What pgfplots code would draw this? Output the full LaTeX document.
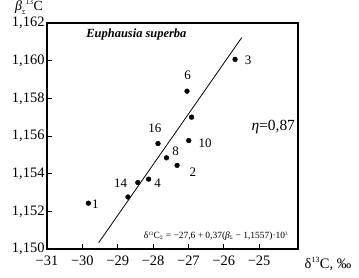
\documentclass[border=0pt]{standalone}
\usepackage{fontspec}
\setmainfont{Liberation Serif}
\usepackage{pgfplots}
\pgfplotsset{compat=1.18}
\begin{document}
\begin{tikzpicture}[x=1bp,y=1bp]
\begin{axis}[
  scale only axis,
  width=251bp, height=226bp,
  xmin=-31, xmax=-23.9, ymin=1.150, ymax=1.162,
  axis line style={line width=1.1pt},
  tick style={black, line width=0.8pt},
  tick align=inside,
  major tick length=5bp,
  xtick={-31,-30,-29,-28,-27,-26,-25},
  xticklabels={−31,−30,−29,−28,−27,−26,−25},
  ytick={1.150,1.152,1.154,1.156,1.158,1.160,1.162},
  yticklabels={{1,150},{1,152},{1,154},{1,156},{1,158},{1,160},{1,162}},
  xtick pos=bottom, ytick pos=left,
  tick label style={font=\fontsize{14.5}{14.5}\selectfont},
  yticklabel style={xshift=1bp},
  xticklabel style={yshift=-3bp},
  scaled y ticks=false,
  clip=false,
]
\addplot[black, line width=0.8pt] coordinates {(-29.54,1.15033) (-25.49,1.16123)};
\addplot[only marks, mark=*, mark size=2.4bp, black] coordinates {
 (-29.83,1.15243) (-28.71,1.15276) (-28.43,1.15353) (-28.125,1.15371)
 (-27.86,1.15560) (-27.62,1.15484) (-27.32,1.15444) (-26.99,1.15576)
 (-27.04,1.15838) (-26.91,1.15700) (-25.68,1.16007)};
\begin{scope}[every node/.style={font=\fontsize{13}{13}\selectfont}]
\node at (axis cs:-29.63,1.1524) {1};
\node at (axis cs:-28.92,1.1535) {14};
\node at (axis cs:-27.87,1.1535) {4};
\node at (axis cs:-27.95,1.1564) {16};
\node at (axis cs:-27.36,1.1552) {8};
\node at (axis cs:-26.875,1.1541) {2};
\node at (axis cs:-26.53,1.1556) {10};
\node at (axis cs:-27.02,1.1592) {6};
\node at (axis cs:-25.31,1.1600) {3};
\end{scope}
\node[font=\fontsize{15.5}{15.5}\selectfont] at (axis cs:-24.60,1.15648) {\textit{η}=0,87};
\node[font=\fontsize{12.5}{12.5}\selectfont\itshape\bfseries] at (axis cs:-28.47,1.16139) {Euphausia superba};
\node[font=\fontsize{9.5}{9.5}\selectfont] at (axis cs:-26.22,1.15067) {δ$^{\mbox{\tiny 13}}$C$_{\mbox{\tiny Σ}}$ = −27,6 + 0,37(\textit{β}$_{\mbox{\tiny Σ}}$ − 1,1557)·10$^{\mbox{\tiny 3}}$};
\coordinate (bbsw) at (rel axis cs:0,0);
\coordinate (bbne) at (rel axis cs:1,1);
\end{axis}
\node[font=\fontsize{14.5}{14.5}\selectfont, anchor=center] at ([xshift=30bp,yshift=-15bp]bbsw -| bbne) {δ$^{\mbox{\footnotesize 13}}$C, ‰};
\node[font=\fontsize{14}{14}\selectfont, anchor=base, inner sep=0pt] at ([xshift=-18bp,yshift=12bp]bbsw |- bbne) {{\itshape β}\raisebox{-4bp}{\fontsize{6}{6}\selectfont Σ}\raisebox{6bp}{\fontsize{7.5}{7.5}\selectfont 13}\hspace{0.5pt}C};
\pgfresetboundingbox
\path[use as bounding box] ([xshift=-47bp,yshift=-29bp]bbsw) rectangle ([xshift=61bp,yshift=23bp]bbne);
\end{tikzpicture}
\end{document}
